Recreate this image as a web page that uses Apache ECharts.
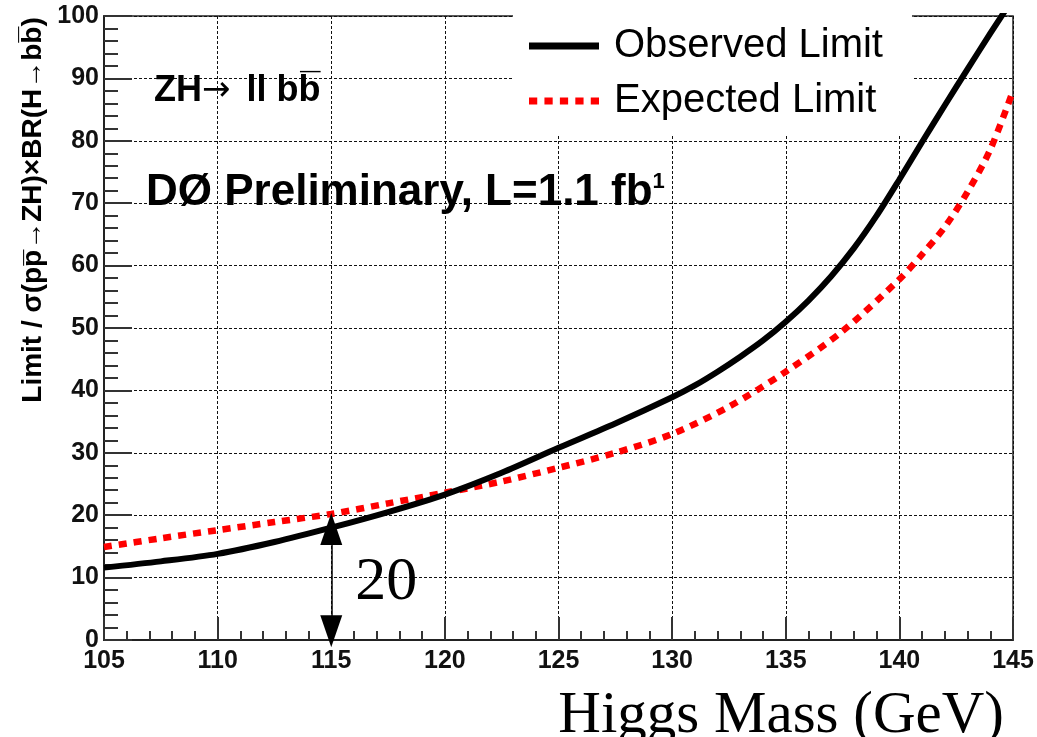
<!DOCTYPE html>
<html>
<head>
<meta charset="utf-8">
<script src="https://cdn.jsdelivr.net/npm/echarts@6/dist/echarts.min.js"></script>
<style>
html,body{margin:0;padding:0;background:#fff;}
#chart{width:1037px;height:737px;}
</style>
</head>
<body>
<div id="chart"></div>
<script>
// Data
var obsMass  = [105, 107.5, 110, 112.5, 115, 117.5, 120, 122.5, 125, 127.5, 130, 131, 132, 133, 134, 135, 136, 137, 138, 139, 140, 141, 142, 143, 144, 145];
var observed = [11.6, 12.6, 13.8, 15.7, 18.0, 20.5, 23.3, 26.8, 30.8, 34.7, 38.9, 40.8, 43.0, 45.4, 48.0, 51.0, 54.4, 58.3, 62.8, 68.0, 73.8, 79.8, 85.7, 91.5, 97.2, 102.8];
var expMass  = [105, 107.5, 110, 112.5, 115, 117.5, 120, 122.5, 125, 127.5, 130, 132.5, 135, 137.5, 140, 141, 142, 143, 144, 145];
var expected = [14.9, 16.3, 17.6, 18.9, 20.2, 21.9, 23.6, 25.4, 27.6, 30.0, 33.0, 37.4, 43.0, 49.5, 57.8, 61.8, 66.2, 71.8, 78.6, 88.0];
var seriesNames = ['Observed Limit', 'Expected Limit'];
var xTicks = {min: 105, max: 145, step: 5};
var yTicks = {min: 0, max: 100, step: 10};
var arrowMass = 115, arrowFrom = 1.4, arrowTo = 17.8;
var annotation = {text: '20', mass: 117.42, value: 9.1};

function pairs(xs, ys){ return xs.map(function(x,i){ return [x, ys[i]]; }); }

var chart = echarts.init(document.getElementById('chart'), null, {renderer:'canvas'});
var sans = 'Liberation Sans, Arial, Helvetica, sans-serif';
var serif = 'Liberation Serif, Times New Roman, serif';

var option = {
  backgroundColor: '#fff',
  animation: false,
  grid: {left: 104, right: 24, top: 16, bottom: 97, show: true, borderColor: '#222', borderWidth: 1.5, backgroundColor: 'transparent'},
  xAxis: {
    type: 'value', min: xTicks.min, max: xTicks.max, interval: xTicks.step,
    axisLine: {show: true, onZero: false, lineStyle: {color: '#222', width: 2}},
    axisTick: {show: true, inside: true, length: 23, lineStyle: {color: '#333', width: 2}},
    minorTick: {show: true, splitNumber: 5, length: 9, lineStyle: {color: '#333', width: 2}},
    axisLabel: {fontFamily: sans, fontWeight: 'bold', fontSize: 25, color: '#111', margin: 9},
    splitLine: {show: true, lineStyle: {color: '#111', width: 1, type: [3, 2]}}
  },
  yAxis: {
    type: 'value', min: yTicks.min, max: yTicks.max, interval: yTicks.step,
    axisLine: {show: true, lineStyle: {color: '#222', width: 2}},
    axisTick: {show: true, inside: true, length: 28, lineStyle: {color: '#333', width: 2}},
    minorTick: {show: true, splitNumber: 5, length: 14, lineStyle: {color: '#333', width: 2}},
    axisLabel: {fontFamily: sans, fontWeight: 'bold', fontSize: 25, color: '#111', margin: 5},
    splitLine: {show: true, lineStyle: {color: '#111', width: 1, type: [3, 2]}}
  },
  legend: {
    orient: 'vertical', left: 513, top: 0,
    padding: [24, 29, 13, 16],
    itemGap: 11, itemWidth: 70, itemHeight: 14,
    backgroundColor: '#fff', borderWidth: 0,
    textStyle: {fontFamily: sans, fontSize: 40, color: '#000', lineHeight: 44, padding: [0, 0, 0, 10]},
    data: [
      {name: seriesNames[0], icon: 'path://M0,0 L70,0 L70,7 L0,7 Z'},
      {name: seriesNames[1], icon: 'path://M0,0 L8,0 L8,7 L0,7 Z M15,0 L23,0 L23,7 L15,7 Z M30,0 L38,0 L38,7 L30,7 Z M45,0 L53,0 L53,7 L45,7 Z M60,0 L68,0 L68,7 L60,7 Z'}
    ]
  },
  series: [
    {
      name: seriesNames[0], type: 'line', smooth: 0.3, showSymbol: false, symbol: 'none',
      data: pairs(obsMass, observed), z: 3,
      lineStyle: {color: '#000', width: 6},
      itemStyle: {color: '#000'},
      markLine: {
        silent: true, symbol: ['none', 'none'],
        label: {show: false},
        lineStyle: {color: '#000', width: 1.5, type: 'solid'},
        data: [[{coord: [arrowMass, arrowFrom]}, {coord: [arrowMass, arrowTo]}]]
      },
      markPoint: {
        silent: true,
        data: [
          {coord: [arrowMass, arrowTo], symbol: 'triangle', symbolSize: [22, 32], itemStyle: {color: '#000'}, label: {show: false}},
          {coord: [arrowMass, arrowFrom], symbol: 'triangle', symbolSize: [22, 32], symbolRotate: 180, itemStyle: {color: '#000'}, label: {show: false}},
          {coord: [annotation.mass, annotation.value], symbol: 'circle', symbolSize: 1, itemStyle: {color: 'rgba(0,0,0,0)'},
            label: {show: true, position: 'inside', formatter: annotation.text, fontFamily: serif, fontSize: 62, color: '#000'}}
        ]
      }
    },
    {
      name: seriesNames[1], type: 'line', smooth: 0.3, showSymbol: false, symbol: 'none',
      data: pairs(expMass, expected), z: 2,
      lineStyle: {color: '#ff0000', width: 6.5, type: [8, 7]},
      itemStyle: {color: '#ff0000'}
    }
  ],
  graphic: [
    {type: 'text', left: 154, top: 73, z: 10,
      style: {text: 'ZH{a|\u2192} ll bb\u0305', fontFamily: sans, fontWeight: 'bold', fontSize: 36, fill: '#000',
        rich: {a: {fontFamily: 'DejaVu Sans', fontWeight: 'normal', fontSize: 34, fill: '#000', padding: [0, 6, 0, 0]}}}},
    {type: 'text', left: 146, top: 171, z: 10,
      style: {text: 'D\u00D8 Preliminary, L=1.1 fb{s|1}', fontFamily: sans, fontWeight: 'bold', fontSize: 44, fill: '#000',
        rich: {s: {fontFamily: sans, fontWeight: 'bold', fontSize: 22, fill: '#000', verticalAlign: 'top'}}}},
    {type: 'text', x: 33, y: 210, rotation: Math.PI / 2, z: 10,
      style: {text: 'Limit / \u03C3(pp\u0305\u2192ZH)\u00D7BR(H\u2192bb\u0305)', fontFamily: sans, fontWeight: 'bold', fontSize: 28, fill: '#000', align: 'center', verticalAlign: 'middle'}},
    {type: 'text', x: 1004, y: 716, z: 10,
      style: {text: 'Higgs Mass (GeV)', fontFamily: serif, fontSize: 59, fill: '#000', align: 'right', verticalAlign: 'middle'}}
  ]
};
chart.setOption(option);
</script>
</body>
</html>
